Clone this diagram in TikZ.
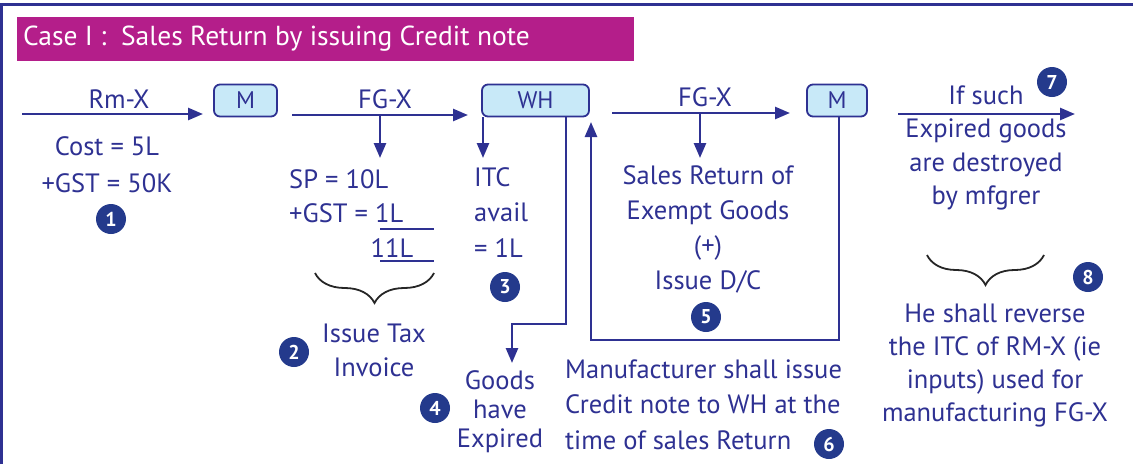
\documentclass[tikz,border=0pt]{standalone}
\usepackage{fontspec}
\setmainfont{PT Sans}
\usetikzlibrary{arrows.meta,decorations.pathreplacing}
\definecolor{tb}{RGB}{46,49,146}
\definecolor{cb}{RGB}{36,58,140}
\definecolor{hd}{RGB}{180,30,138}
\definecolor{bf}{RGB}{200,233,248}
\newcommand{\bodysz}[1]{\fontsize{26.5}{#1}\selectfont}
\begin{document}
\begin{tikzpicture}[x=1pt,y=-1pt,
  ar/.style={draw=tb, line width=2.6pt, -{Triangle[length=15pt,width=12pt]}},
  rule/.style={draw=tb, line width=2pt},
  bx/.style={draw=tb, fill=bf, line width=1.8pt, rounded corners=6pt, minimum height=32pt, inner sep=0pt, text=tb, font=\fontsize{24}{26}\selectfont},
  num/.style={circle, fill=cb, minimum size=30pt, inner sep=0pt, text=white, font=\fontsize{20}{22}\selectfont\bfseries},
  tx/.style={text=tb, inner sep=0pt},
  brc/.style={draw=black!85, line width=1.8pt, decorate, decoration={brace, mirror, amplitude=30pt, aspect=0.5}}
]
\useasboundingbox (0,0) rectangle (1133,464);
% frame
\draw[tb, line width=3pt] (1.5,464) -- (1.5,4) -- (1133,4);
% header
\fill[hd] (17,17) rectangle (634,61);
\node[anchor=west, text=white, inner sep=0pt, font=\fontsize{27.5}{30}\selectfont] (title) at (23,39) {Case I :\ \ Sales Return by issuing Credit note};
% boxes
\node[bx, minimum width=63pt] (M1) at (245.5,100.5) {M};
\node[bx, minimum width=107pt] (WH) at (535.5,100.5) {WH};
\node[bx, minimum width=60pt] (M2) at (837,100.5) {M};
% arrow coordinates
\coordinate (a1s) at (22,114);   \coordinate (a1e) at (203,114);
\coordinate (a2s) at (292,115);  \coordinate (a2e) at (468,115);
\coordinate (a3s) at (612,113);  \coordinate (a3e) at (790,113);
\coordinate (a4s) at (898,114);  \coordinate (a4e) at (1075,114);
\draw[ar] (a1s) -- (a1e);
\draw[ar] (a2s) -- (a2e);
\draw[ar] (a3s) -- (a3e);
\draw[ar] (a4s) -- (a4e);
% labels on arrows
\node[tx, font=\bodysz{34}] (rmx) at (119,99) {Rm-X};
\node[tx, font=\bodysz{34}] (fgx1) at (385,99) {FG-X};
\node[tx, font=\bodysz{34}] (fgx2) at (705,97) {FG-X};
\node[tx, font=\bodysz{34}] (ifsuch) at (986,95) {If such};
% text blocks
\node[tx, align=center, font=\bodysz{37}] (cost) at (107,164.5) {Cost = 5L\\+GST = 50K};
\node[tx, align=left, anchor=west, font=\bodysz{34}] (sp) at (289,196) {SP = 10L\\+GST = 1L};
\node[tx, font=\bodysz{34}] (tot) at (392,248) {11L};
\node[tx, align=left, anchor=west, font=\bodysz{35.5}] (itc) at (474,212.5) {ITC\\avail\\= 1L};
\node[tx, align=center, font=\bodysz{34}] (issue) at (374,350) {Issue Tax\\Invoice};
\node[tx, align=center, font=\bodysz{29}] (goods) at (500,412) {Goods\\have\\Expired};
\node[tx, align=center, font=\bodysz{35}] (sr) at (708,229.5) {Sales Return of\\Exempt Goods\\(+)\\Issue D/C};
\node[tx, align=left, anchor=west, font=\bodysz{35.5}] (mfr) at (565,404.5) {Manufacturer shall issue\\Credit note to WH at the\\time of sales Return};
\node[tx, align=center, font=\bodysz{33.5}] (exp) at (986,164.5) {Expired goods\\are destroyed\\by mfgrer};
\node[tx, align=center, font=\bodysz{33}] (rev) at (995,366) {He shall reverse\\the ITC of RM-X (ie\\inputs) used for\\manufacturing FG-X};
% down arrows
\coordinate (d1) at (380,158);
\coordinate (d2) at (483,158);
\coordinate (d3) at (700,158);
\draw[ar] (a2s -| d1) -- (d1);
\draw[ar] (WH.south west -| d2) -- (d2);
\draw[ar] (a3s -| d3) -- (d3);
% expired path
\coordinate (e1) at (566,324);
\coordinate (e2) at (512,363);
\draw[ar] (WH.south -| e1) -- (e1) -- (e1 -| e2) -- (e2);
% return path
\coordinate (r1) at (839,340);
\coordinate (r2) at (591,122);
\draw[ar] (M2.south -| r1) -- (r1) -- (r1 -| r2) -- (r2);
% total rules
\coordinate (t1) at (380,229); \coordinate (t2) at (434,229);
\coordinate (t3) at (380,261); \coordinate (t4) at (434,261);
\draw[rule] (t1) -- (t2);
\draw[rule] (t3) -- (t4);
% braces
\coordinate (b1) at (315,273); \coordinate (b2) at (434,273);
\coordinate (b3) at (927,255); \coordinate (b4) at (1044,255);
\draw[brc] (b1) -- (b2);
\draw[brc] (b3) -- (b4);
% numbers
\node[num] (n1) at (111,219) {1};
\node[num] (n2) at (294,352) {2};
\node[num] (n3) at (505,287) {3};
\node[num] (n4) at (435,408) {4};
\node[num] (n5) at (706,317) {5};
\node[num] (n6) at (829,444) {6};
\node[num] (n7) at (1052,82) {7};
\node[num] (n8) at (1088,277) {8};
\end{tikzpicture}
\end{document}
